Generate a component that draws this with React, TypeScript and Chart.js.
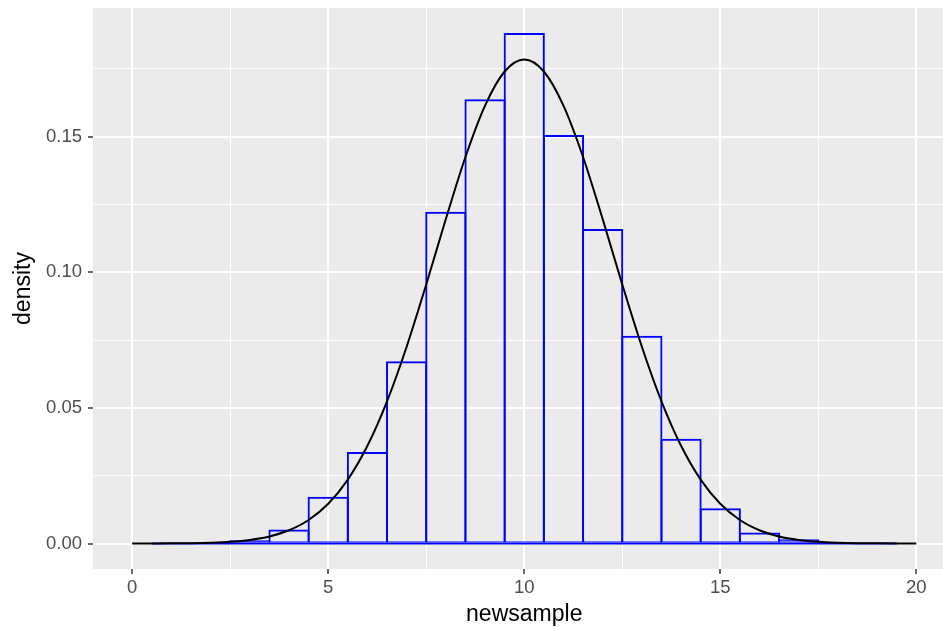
import React, { useEffect, useRef } from 'react';
import { Chart, registerables } from 'chart.js';

Chart.register(...registerables);

// ---- data ----
const binWidth = 1;
const binCenters = [1, 2, 3, 4, 5, 6, 7, 8, 9, 10, 11, 12, 13, 14, 15, 16, 17, 18, 19];
const binDensity = [0, 0, 0.0012, 0.0052, 0.0172, 0.0337, 0.0672, 0.1223, 0.1638, 0.1882, 0.1506, 0.1159, 0.0766, 0.0386, 0.0130, 0.0041, 0.0016, 0, 0];

const curveX = [0, 0.5, 1, 1.5, 2, 2.5, 3, 3.5, 4, 4.5, 5, 5.5, 6, 6.5, 7, 7.5, 8, 8.5, 9, 9.5, 10,
  10.5, 11, 11.5, 12, 12.5, 13, 13.5, 14, 14.5, 15, 15.5, 16, 16.5, 17, 17.5, 18, 18.5, 19, 19.5, 20];
const curveDensity = [0.00001, 0.00002, 0.00005, 0.00013, 0.0003, 0.00064, 0.00133, 0.00261, 0.00487, 0.00866,
  0.01464, 0.02355, 0.03602, 0.05241, 0.07254, 0.0955, 0.11959, 0.14247, 0.16143, 0.174, 0.17841,
  0.174, 0.16143, 0.14247, 0.11959, 0.0955, 0.07254, 0.05241, 0.03602, 0.02355, 0.01464,
  0.00866, 0.00487, 0.00261, 0.00133, 0.00064, 0.0003, 0.00013, 0.00005, 0.00002, 0.00001];

const xMajorTicks = [0, 5, 10, 15, 20];
const xTickLabels = ['0', '5', '10', '15', '20'];
const xMinorTicks = [2.5, 7.5, 12.5, 17.5];
const yMajorTicks = [0, 0.05, 0.1, 0.15];
const yTickLabels = ['0.00', '0.05', '0.10', '0.15'];
const yMinorTicks = [0.025, 0.075, 0.125, 0.175];

const xTitle = 'newsample';
const yTitle = 'density';

const FONT = '"Liberation Sans", Arial, Helvetica, sans-serif';
const PX_PER_BIN = 39.2; // used only to let outlines straddle bin edges like ggplot

const panelBg = {
  id: 'panelBg',
  beforeDraw(chart: any) {
    const { ctx, chartArea } = chart;
    if (!chartArea) return;
    ctx.save();
    ctx.fillStyle = '#EBEBEB';
    ctx.fillRect(chartArea.left, chartArea.top, chartArea.right - chartArea.left, chartArea.bottom - chartArea.top);
    ctx.restore();
  },
};

function makeTicks(major: number[], minor: number[]) {
  return [...major, ...minor].sort((a, b) => a - b).map((v) => ({ value: v }));
}

export default function App() {
  const ref = useRef<HTMLCanvasElement | null>(null);

  useEffect(() => {
    if (!ref.current) return;
    const isXMajor = (v: number) => xMajorTicks.indexOf(v) >= 0;
    const isYMajor = (v: number) => yMajorTicks.indexOf(v) >= 0;

    const chart = new Chart(ref.current, {
      type: 'bar',
      data: {
        datasets: [
          {
            type: 'line',
            data: curveX.map((x, i) => ({ x, y: curveDensity[i] })),
            borderColor: '#000000',
            borderWidth: 2,
            pointRadius: 0,
            cubicInterpolationMode: 'monotone',
            fill: false,
            order: 0,
          } as any,
          {
            type: 'line',
            data: [
              { x: binCenters[0] - binWidth / 2, y: 0 },
              { x: binCenters[binCenters.length - 1] + binWidth / 2, y: 0 },
            ],
            borderColor: '#0000FF',
            borderWidth: 2,
            pointRadius: 0,
            fill: false,
            order: 1,
          } as any,
          {
            type: 'bar',
            data: binCenters.map((x, i) => ({ x, y: binDensity[i] })),
            backgroundColor: 'rgba(0,0,0,0)',
            borderColor: '#0000FF',
            borderWidth: { top: 2, bottom: 1, left: 2, right: 2 },
            borderSkipped: false,
            barPercentage: (PX_PER_BIN + 2) / PX_PER_BIN,
            categoryPercentage: 1,
            inflateAmount: 0,
            order: 2,
          } as any,
        ],
      },
      options: {
        responsive: false,
        animation: false,
        events: [],
        layout: { padding: { top: 8, right: 6.5, left: 0, bottom: 0 } },
        plugins: { legend: { display: false }, tooltip: { enabled: false } },
        scales: {
          x: {
            type: 'linear',
            min: -1,
            max: 21,
            bounds: 'data',
            offset: false,
            border: { display: false },
            grid: {
              offset: false,
              color: '#FFFFFF',
              lineWidth: (ctx: any) => (ctx.tick && isXMajor(ctx.tick.value) ? 2 : 1),
              tickColor: (ctx: any) => (ctx.tick && isXMajor(ctx.tick.value) ? '#333333' : 'rgba(0,0,0,0)'),
              tickLength: 5,
              tickWidth: 1.5,
              drawTicks: true,
            },
            afterBuildTicks: (scale: any) => {
              scale.ticks = makeTicks(xMajorTicks, xMinorTicks);
            },
            afterFit: (scale: any) => {
              scale.height = 59;
              scale.paddingLeft = 0;
              scale.paddingRight = 0;
            },
            ticks: {
              autoSkip: false,
              maxRotation: 0,
              minRotation: 0,
              padding: 3,
              color: '#4D4D4D',
              font: { family: FONT, size: 18.5 },
              callback: (value: any) => {
                const i = xMajorTicks.indexOf(Number(value));
                return i >= 0 ? xTickLabels[i] : '';
              },
            },
            title: {
              display: true,
              text: xTitle,
              color: '#000000',
              font: { family: FONT, size: 23, lineHeight: 1.05 },
              padding: { top: 0, bottom: 1 },
            },
          } as any,
          y: {
            type: 'linear',
            min: -0.0094,
            max: 0.1974,
            bounds: 'data',
            border: { display: false },
            grid: {
              color: '#FFFFFF',
              lineWidth: (ctx: any) => (ctx.tick && isYMajor(ctx.tick.value) ? 2 : 1),
              tickColor: (ctx: any) => (ctx.tick && isYMajor(ctx.tick.value) ? '#333333' : 'rgba(0,0,0,0)'),
              tickLength: 5,
              tickWidth: 1.5,
              drawTicks: true,
            },
            afterBuildTicks: (scale: any) => {
              scale.ticks = makeTicks(yMajorTicks, yMinorTicks);
            },
            afterFit: (scale: any) => {
              scale.width = 93;
              scale.paddingTop = 0;
              scale.paddingBottom = 0;
            },
            ticks: {
              autoSkip: false,
              padding: 6,
              color: '#4D4D4D',
              font: { family: FONT, size: 18.5 },
              callback: (value: any) => {
                const i = yMajorTicks.indexOf(Number(value));
                return i >= 0 ? yTickLabels[i] : '';
              },
            },
            title: {
              display: true,
              text: yTitle,
              color: '#000000',
              font: { family: FONT, size: 23, lineHeight: 1.05 },
              padding: { top: 12, bottom: 0 },
            },
          } as any,
        },
      },
      plugins: [panelBg],
    } as any);

    return () => chart.destroy();
  }, []);

  return (
    <div style={{ position: 'fixed', left: 0, top: 0, width: 943, height: 628, overflow: 'hidden', background: '#FFFFFF' }}>
      <canvas ref={ref} width={962} height={628} style={{ display: 'block', width: 962, height: 628 }} />
    </div>
  );
}
